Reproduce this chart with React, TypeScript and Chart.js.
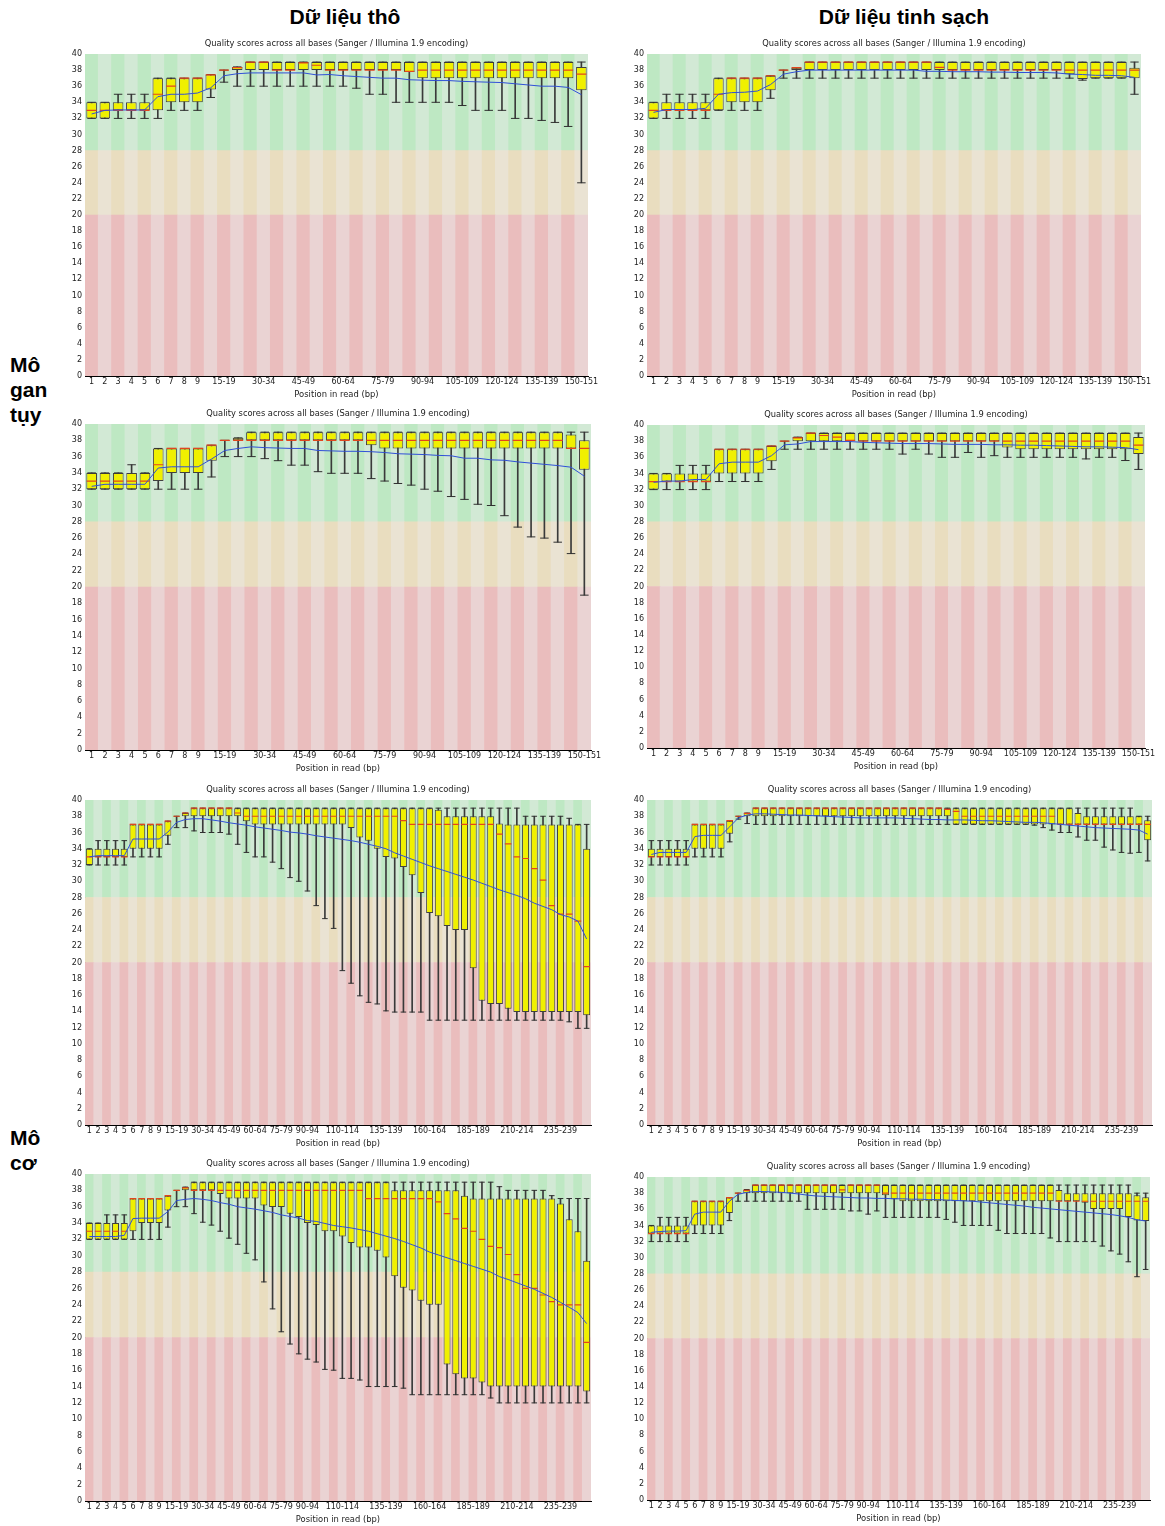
import React, { useEffect, useRef } from 'react';
import { Chart, registerables } from 'chart.js';

Chart.register(...registerables);

const FONT = '"DejaVu Sans", Verdana, sans-serif';
const PANEL_TITLE = 'Quality scores across all bases (Sanger / Illumina 1.9 encoding)';
const X_TITLE = 'Position in read (bp)';

// ---------- categories & tick labels ----------
const hpCategories = ['1','2','3','4','5','6','7','8','9','10-14','15-19','20-24','25-29','30-34','35-39','40-44','45-49','50-54','55-59','60-64','65-69','70-74','75-79','80-84','85-89','90-94','95-99','100-104','105-109','110-114','115-119','120-124','125-129','130-134','135-139','140-144','145-149','150-151'];
const muCategories = ['1','2','3','4','5','6','7','8','9','10-14','15-19','20-24','25-29','30-34','35-39','40-44','45-49','50-54','55-59','60-64','65-69','70-74','75-79','80-84','85-89','90-94','95-99','100-104','105-109','110-114','115-119','120-124','125-129','130-134','135-139','140-144','145-149','150-154','155-159','160-164','165-169','170-174','175-179','180-184','185-189','190-194','195-199','200-204','205-209','210-214','215-219','220-224','225-229','230-234','235-239','240-244','245-249','250-251'];
const hpTickLabels = ['1','2','3','4','5','6','7','8','9','15-19','30-34','45-49','60-64','75-79','90-94','105-109','120-124','135-139','150-151'];
const muTickLabels = ['1','2','3','4','5','6','7','8','9','15-19','30-34','45-49','60-64','75-79','90-94','110-114','135-139','160-164','185-189','210-214','235-239'];

// quality zones (bad / reasonable / good)
const zoneBounds = [0, 20, 28, 40];
const zoneColors = [
  ['rgb(234,189,189)', 'rgb(234,211,211)'],
  ['rgb(233,221,191)', 'rgb(234,227,211)'],
  ['rgb(190,232,195)', 'rgb(210,233,213)'],
];

// ---------- Mô gan tụy, mẫu 1, dữ liệu thô ----------
const hpRaw1Low = [32,32,32,32,32,32,33,33,33,34.6,36.5,36,36,36,36,36,36,36,36,36,35.75,35,35,34,34,34,34,34,33.6,33,33,33,32,32,31.75,31.5,31,24];
const hpRaw1Q1 = [32,32,33,33,33,33,34,34,34,35.6,38,38,38,38,38,38,38,38,38,38,38,38,38,38,37.75,37,37,37,37,37,37,37,37,37,37,37,37,35.5];
const hpRaw1Med = [33,33,33,33,33,35,36,37,37,37.4,38,38.3,39,39,38,38,38.9,38.6,38,38,38,38,38,38,37.85,38,38,38,38,38,38,38,38,38,38,38,38,37.5];
const hpRaw1Q3 = [34,34,34,34,34,37,37,37,37,37.45,38,38.4,39,39,39,39,39,39,39,39,39,39,39,39,39,39,39,39,39,39,39,39,39,39,39,39,39,38.4];
const hpRaw1High = [34,34,35,35,35,37,37,37,37,37.45,38,38.4,39,39,39,39,39,39,39,39,39,39,39,39,39,39,39,39,39,39,39,39,39,39,39,39,39,39];
const hpRaw1Mean = [32.55,33.0,33.05,33.05,33.05,34.7,35.0,35.0,35.15,35.8,37.3,37.55,37.65,37.65,37.65,37.65,37.65,37.4,37.45,37.3,37.2,37.1,37.0,37.0,36.8,36.75,36.7,36.7,36.6,36.55,36.5,36.45,36.3,36.15,36.0,36.0,35.85,34.95];

// ---------- Mô gan tụy, mẫu 1, dữ liệu tinh sạch ----------
const hpClean1Low = [32,32,32,32,32,33,33,33,33,34.5,37,37,37,37,37,37,37,37,37,37,37,37,37,37,37,37,37,37,37,37,37,37,37,36.75,37,37,37,35];
const hpClean1Q1 = [32,33,33,33,33,33,34,34,34,35.5,38,38,38,38,38,38,38,38,38,38,38,38,38,38,38,38,38,38,38,38,38,38,37.5,36.9,37,37,37,37];
const hpClean1Med = [33,33,33,33,33,35,37,37,37,37.3,38,38.3,39,39,39,39,39,39,39,39,39,39,38.35,38,38,38,38,38,38,38,38,38,38,38,38,38,38,38];
const hpClean1Q3 = [34,34,34,34,34,37,37,37,37,37.3,38,38.3,39,39,39,39,39,39,39,39,39,39,39,39,39,39,39,39,39,39,39,39,39,39,39,39,39,38.3];
const hpClean1High = [34,35,35,35,35,37,37,37,37,37.3,38,38.3,39,39,39,39,39,39,39,39,39,39,39,39,39,39,39,39,39,39,39,39,39,39,39,39,39,39];
const hpClean1Mean = [32.75,33.1,33.1,33.1,33.25,35.0,35.2,35.25,35.4,36.2,37.5,37.8,38.0,38.0,38.0,38.0,38.0,38.0,38.0,38.0,38.0,37.85,37.85,37.8,37.8,37.8,37.75,37.75,37.7,37.7,37.7,37.65,37.5,37.45,37.35,37.35,37.3,37.1];

// ---------- Mô gan tụy, mẫu 2, dữ liệu thô ----------
const hpRaw2Low = [32,32,32,32,32,32,32,32,32,33.5,36,36,36,35.75,35.5,34.95,34.95,34.15,33.95,33.95,33.95,33.3,33,32.7,32.5,32,31.75,31.1,30.75,30.15,30,28.75,27.35,26.15,26.0,25.5,24.1,19];
const hpRaw2Q1 = [32,32,32,32,32,33,34,34,34,35.5,38,38,38,38,38,38,38,38,38,38,38,37.4,37,37,37,37,37,37,37,37,37,37,37,37,37,37,37,34.4];
const hpRaw2Med = [33,33,33,33,33,35,37,37,37,37.4,38,38,38,38,38,38,38,38,38,38,38,38,38,38,38,38,38,38,38,38,38,38,38,38,38,38,37,37];
const hpRaw2Q3 = [34,34,34,34,34,37,37,37,37,37.4,38,38.3,39,39,39,39,39,39,39,39,39,39,39,39,39,39,39,39,39,39,39,39,39,39,39,39,38.7,38];
const hpRaw2High = [34,34,34,35,34,37,37,37,37,37.4,38,38.3,39,39,39,39,39,39,39,39,39,39,39,39,39,39,39,39,39,39,39,39,39,39,39,39,39,39];
const hpRaw2Mean = [32.35,32.6,32.6,32.6,32.6,34.6,34.75,34.75,34.75,35.7,36.75,37.0,37.2,37.1,37.05,37.0,37.0,36.75,36.7,36.65,36.65,36.6,36.5,36.35,36.3,36.25,36.15,36.1,35.8,35.8,35.6,35.55,35.35,35.2,35.05,34.9,34.7,33.6];

// ---------- Mô gan tụy, mẫu 2, dữ liệu tinh sạch ----------
const hpClean2Low = [32,32,32,32,32,33,33,33,33,34.5,37,37,37,37,37,37,37,37,37,36.4,37,36.4,36,36,36.6,36,36.2,36,36,36,36,36,36,35.8,36,36,35.6,34.5];
const hpClean2Q1 = [32,33,33,33,33,34,34,34,34,35.5,38,38,38,38,38,38,38,38,38,38,38,38,38,38,38,38,38,37.2,37,37,37,37,37,37,37,37,37,36.4];
const hpClean2Med = [33,33,33,33,33,37,37,37,37,37.4,38,38.4,39,38.7,38.5,38.1,38,38,38,38,38,38,38,38,38,38,38,38,38,38,38,38,38,38,38,38,38,37.5];
const hpClean2Q3 = [34,34,34,34,34,37,37,37,37,37.4,38,38.5,39,39,39,39,39,39,39,39,39,39,39,39,39,39,39,39,39,39,39,39,39,39,39,39,39,38.5];
const hpClean2High = [34,34,35,35,35,37,37,37,37,37.4,38,38.5,39,39,39,39,39,39,39,39,39,39,39,39,39,39,39,39,39,39,39,39,39,39,39,39,39,39];
const hpClean2Mean = [32.9,33.05,33.05,33.25,33.25,35.2,35.4,35.4,35.4,36.2,37.55,37.65,37.95,37.95,37.95,37.95,37.85,37.8,37.75,37.7,37.7,37.7,37.65,37.6,37.6,37.6,37.55,37.55,37.5,37.5,37.45,37.4,37.35,37.3,37.3,37.25,37.2,36.95];

// ---------- Mô cơ, mẫu 1, dữ liệu thô ----------
const muRaw1Low = [32,32,32,32,32,33,33,33,33,34.55,36.6,36.6,36.2,36.0,36.0,36.0,35.8,34.55,33.55,33.0,33.0,32.35,31.55,30.45,30.0,28.8,27.0,25.4,24.2,19.0,17.45,15.9,15.1,14.9,14.05,13.9,13.9,13.9,13.9,12.9,12.9,12.9,12.9,12.9,12.9,12.9,12.9,12.9,12.9,12.9,12.9,12.9,12.9,12.9,12.9,12.7,11.9,11.9];
const muRaw1Q1 = [32,33,33,33,33,34,34,34,34,35.6,38,38,38,38,38,38,38,38,37.4,37,37,37,37,37,37,37,37,37,37,37,36.55,35.4,35.0,34.0,33.0,32.8,31.75,30.75,28.55,26.1,25.7,24.5,24.0,24.0,19.3,15.3,14.9,14.9,14.3,13.9,13.9,13.9,13.9,13.9,13.9,13.9,13.9,13.5];
const muRaw1Med = [33,33,33,33,33,37,37,37,37,37.4,38,38.4,39,39,39,39,39,38.4,38,38,38,38,38,38,38,38,38,38,38,38,38,38,38,38,38,38,37.45,37,37,37,37,37,37,37,37,37,37,35.8,34.6,33.0,32.8,31.55,30.15,27.0,25.95,25.95,25.1,19.5];
const muRaw1Q3 = [34,34,34,34,34,37,37,37,37,37.4,38,38.4,39,39,39,39,39,39,39,39,39,39,39,39,39,39,39,39,39,39,39,39,39,39,39,39,39,39,39,39,38.8,38,38,38,38,38,38,37.1,37,37,37,37,37,37,37,37,37,34];
const muRaw1High = [34,35,35,35,35,37,37,37,37,37.4,38,38.4,39,39,39,39,39,39,39,39,39,39,39,39,39,39,39,39,39,39,39,39,39,39,39,39,39,39,39,39,39,39,39,39,39,39,39,39,39,39,38,38,38,38,38,37.75,37,37];
const muRaw1Mean = [33.0,33.15,33.15,33.15,33.15,35.2,35.2,35.2,35.2,36.05,37.25,37.6,37.7,37.7,37.55,37.4,37.2,37.05,36.9,36.7,36.55,36.4,36.25,36.05,35.95,35.8,35.6,35.45,35.3,35.15,35.0,34.8,34.55,34.3,34.0,33.5,33.1,32.7,32.3,31.9,31.55,31.2,30.85,30.5,30.15,29.75,29.35,28.95,28.6,28.25,27.85,27.3,26.9,26.5,25.9,25.6,25.1,22.9];

// ---------- Mô cơ, mẫu 1, dữ liệu tinh sạch ----------
const muClean1Low = [32,32,32,32,32,33,33,33,33,34.85,37.65,37.1,37,37,37,37,37,37,37,37,37,37,37,37,37,37,37,37,37,37,37,37,37,37,37,37,37,37,37,37,37,37,37,37,36.9,36.6,36.3,36.0,36.0,35.45,35.05,35.05,34.2,33.85,33.55,33.45,33.55,32.5];
const muClean1Q1 = [33,33,33,33,33,34,34,34,34,35.85,38,38,38,38,38,38,38,38,38,38,38,38,38,38,38,38,38,38,38,38,38,38,38,38,38,37,37,37,37,37,37,37,37,37,37,37,37,37,37,37,37,37,37,37,37,37,37,35.05];
const muClean1Med = [33,33,33,33,33,37,37,37,37,37.45,38,38.35,39,39,39,39,39,39,39,39,39,39,39,39,39,39,39,39,39,39,39,39,39,39,38.85,38.6,38,38,38,38,38,38,38,38,38,38,38,37,37,37,37,37,37,37,37,37,37,37];
const muClean1Q3 = [34,34,34,34,34,37,37,37,37,37.45,38,38.4,39,39,39,39,39,39,39,39,39,39,39,39,39,39,39,39,39,39,39,39,39,39,39,39,39,39,39,39,39,39,39,39,39,39,39,39,39,38.4,38,38,38,38,38,38,38,37.5];
const muClean1High = [35,35,35,35,35,37,37,37,37,37.45,38,38.4,39,39,39,39,39,39,39,39,39,39,39,39,39,39,39,39,39,39,39,39,39,39,39,39,39,39,39,39,39,39,39,39,39,39,39,39,39,39,39,39,39,39,39,39,38,38];
const muClean1Mean = [33.3,33.55,33.55,33.55,33.55,35.5,35.65,35.65,35.65,36.7,37.8,38.15,38.3,38.3,38.25,38.2,38.15,38.15,38.1,38.05,38.0,37.95,37.9,37.85,37.8,37.8,37.8,37.8,37.8,37.75,37.7,37.65,37.6,37.6,37.55,37.55,37.55,37.5,37.45,37.45,37.4,37.35,37.3,37.25,37.25,37.2,37.1,37.0,36.9,36.8,36.7,36.6,36.55,36.5,36.45,36.4,36.3,35.8];

// ---------- Mô cơ, mẫu 2, dữ liệu thô ----------
const muRaw2Low = [32,32,32,32,32,32,32,32,32,33.5,36,36,35.15,34.1,33.75,33.0,32.15,31.4,30.3,29.5,26.8,23.5,20.7,19.2,18.0,17.35,17.0,16.1,16.0,15.0,15.0,14.8,14.0,14.0,14.0,14.0,13.8,13.0,13.0,13.0,13.0,13.0,13.0,13.0,13.0,13.0,12.6,12.0,12.0,12.0,12.0,12.0,12.0,12.0,12.0,12.0,12.0,12.0];
const muRaw2Q1 = [32,32,32,32,32,33,34,34,34,35.55,38,38,38,38,38,37.55,37,37,37,37,36.15,35.95,35.95,35.15,34.75,34.0,33.75,33.0,33.0,32.35,31.55,31.0,31.0,30.6,29.8,27.5,26.1,25.75,24.5,24.0,24.0,16.7,15.5,15.0,15.0,14.5,14.0,14.0,14.0,14.0,14.0,14.0,14.0,14.0,14.0,14.0,14.0,13.4];
const muRaw2Med = [33,33,33,33,33,37,37,37,37,37.35,38,38.3,38,38,38,38,38,38,38,38,38,38,38,38,38,38,38,38,38,38,38,38,37,37,37,37,37,37,37,37,36.6,35.15,34.5,33.35,33.0,32.0,31.15,31.0,30.15,27.7,26.0,26.0,25.2,24.4,24.0,24.0,24.0,19.4];
const muRaw2Q3 = [34,34,34,34,34,37,37,37,37,37.35,38,38.4,39,39,39,39,39,39,39,39,39,39,39,39,39,39,39,39,39,39,39,39,39,39,39,38,38,38,38,38,38,38,38,37.35,37,37,37,37,37,37,37,37,37,37,36.4,34.45,33.0,29.4];
const muRaw2High = [34,34,35,35,35,37,37,37,37,37.35,38,38.4,39,39,39,39,39,39,39,39,39,39,39,39,39,39,39,39,39,39,39,39,39,39,39,39,39,39,39,39,39,39,39,39,39,39,39,38.45,38,38,38,38,38,37.35,37,37,37,37];
const muRaw2Mean = [32.35,32.35,32.35,32.35,32.5,34.55,34.6,34.6,34.6,35.4,36.75,36.9,37.0,36.9,36.75,36.5,36.3,36.0,35.85,35.7,35.5,35.3,35.0,34.8,34.6,34.3,34.2,33.95,33.7,33.55,33.4,33.2,33.0,32.7,32.4,32.1,31.75,31.35,30.95,30.45,30.1,29.75,29.4,29.05,28.7,28.35,28.0,27.45,27.1,26.7,26.3,25.9,25.4,24.9,24.3,23.7,23.05,21.7];

// ---------- Mô cơ, mẫu 2, dữ liệu tinh sạch ----------
const muClean2Low = [32,32,32,32,32,33,33,33,33,34.6,37,37,37,37,37,37,37,37,36,36,36,36,36,35.8,35.8,35.4,35.8,35,35,35,35,35,35,35,34.75,34.4,34,34,34,34,33.4,33,33,33,33,33,32.45,32,32,32,32,32,31.45,30.85,30.45,29.5,27.65,28.55];
const muClean2Q1 = [33,33,33,33,33,34,34,34,34,35.55,38,38,38,38,38,38,38,38,38,38,38,38,38,38,38,38,38,37.75,37.25,37,37,37,37,37,37,37,37,37,37,37,37,37,37,37,37,37,37,37,37,37,36.8,36.05,36.05,36.05,36.05,35.05,34.6,34.55];
const muClean2Med = [33,33,33,33,33,37,37,37,37,37.45,38,38.35,39,39,39,39,39,39,39,39,39,39,38.4,39,39,39,39,38,38,38,38,38,38,38,38,38,38,38,38,38,38,38,38,38,38,38,38,37,37,37,37,37,37,37,37,37,37,37];
const muClean2Q3 = [34,34,34,34,34,37,37,37,37,37.45,38,38.45,39,39,39,39,39,39,39,39,39,39,39,39,39,39,39,39,39,39,39,39,39,39,39,39,39,39,39,39,39,39,39,39,39,39,39,38.4,38,38,38,38,38,38,38,38,37.75,37.5];
const muClean2High = [34,35,35,35,35,37,37,37,37,37.45,38,38.45,39,39,39,39,39,39,39,39,39,39,39,39,39,39,39,39,39,39,39,39,39,39,39,39,39,39,39,39,39,39,39,39,39,39,39,39,39,39,39,39,39,39,39,39,38,38];
const muClean2Mean = [33.15,33.25,33.3,33.3,33.35,35.4,35.65,35.65,35.65,37.0,37.85,38.1,38.2,38.2,38.15,38.1,38.0,37.9,37.75,37.65,37.6,37.55,37.5,37.45,37.4,37.4,37.35,37.35,37.3,37.3,37.25,37.25,37.2,37.2,37.15,37.1,37.05,37.0,36.9,36.8,36.7,36.6,36.5,36.4,36.25,36.15,36.05,35.95,35.85,35.75,35.65,35.55,35.45,35.35,35.2,35.0,34.7,34.55];

type PanelSpec = {
  key: string;
  categories: string[];
  tickLabels: string[];
  low: number[]; q1: number[]; med: number[]; q3: number[]; high: number[]; mean: number[];
  plot: { x: number; y: number; w: number; h: number };
};

const PANELS: PanelSpec[] = [
  { key: 'hpRaw1', categories: hpCategories, tickLabels: hpTickLabels, low: hpRaw1Low, q1: hpRaw1Q1, med: hpRaw1Med, q3: hpRaw1Q3, high: hpRaw1High, mean: hpRaw1Mean, plot: { x: 85, y: 54, w: 503, h: 322 } },
  { key: 'hpClean1', categories: hpCategories, tickLabels: hpTickLabels, low: hpClean1Low, q1: hpClean1Q1, med: hpClean1Med, q3: hpClean1Q3, high: hpClean1High, mean: hpClean1Mean, plot: { x: 647, y: 54, w: 494, h: 322 } },
  { key: 'hpRaw2', categories: hpCategories, tickLabels: hpTickLabels, low: hpRaw2Low, q1: hpRaw2Q1, med: hpRaw2Med, q3: hpRaw2Q3, high: hpRaw2High, mean: hpRaw2Mean, plot: { x: 85, y: 424, w: 506, h: 326 } },
  { key: 'hpClean2', categories: hpCategories, tickLabels: hpTickLabels, low: hpClean2Low, q1: hpClean2Q1, med: hpClean2Med, q3: hpClean2Q3, high: hpClean2High, mean: hpClean2Mean, plot: { x: 647, y: 425, w: 498, h: 323 } },
  { key: 'muRaw1', categories: muCategories, tickLabels: muTickLabels, low: muRaw1Low, q1: muRaw1Q1, med: muRaw1Med, q3: muRaw1Q3, high: muRaw1High, mean: muRaw1Mean, plot: { x: 85, y: 800, w: 506, h: 325 } },
  { key: 'muClean1', categories: muCategories, tickLabels: muTickLabels, low: muClean1Low, q1: muClean1Q1, med: muClean1Med, q3: muClean1Q3, high: muClean1High, mean: muClean1Mean, plot: { x: 647, y: 800, w: 505, h: 325 } },
  { key: 'muRaw2', categories: muCategories, tickLabels: muTickLabels, low: muRaw2Low, q1: muRaw2Q1, med: muRaw2Med, q3: muRaw2Q3, high: muRaw2High, mean: muRaw2Mean, plot: { x: 85, y: 1174, w: 506, h: 327 } },
  { key: 'muClean2', categories: muCategories, tickLabels: muTickLabels, low: muClean2Low, q1: muClean2Q1, med: muClean2Med, q3: muClean2Q3, high: muClean2High, mean: muClean2Mean, plot: { x: 647, y: 1177, w: 503, h: 323 } },
];

const AXIS_W = 38;
const TOP_H = 19;
const BOTTOM_H = 26;

function QualityPanel({ spec }: { spec: PanelSpec }) {
  const ref = useRef<HTMLCanvasElement | null>(null);
  const width = spec.plot.w + 2 * AXIS_W;
  const height = spec.plot.h + TOP_H + BOTTOM_H;

  useEffect(() => {
    if (!ref.current) return;
    const n = spec.categories.length;
    const tickSet = new Set(spec.tickLabels);
    const catWidth = (c: any) => c.chart.scales.x.width / n;
    const tickFont = { family: FONT, size: 8 };
    const axisTitleFont = { family: FONT, size: 8.4 };

    const zoneSets = [0, 1, 2].map((z) => ({
      type: 'bar',
      data: spec.categories.map(() => [zoneBounds[z], zoneBounds[z + 1]]),
      backgroundColor: spec.categories.map((_, i) => zoneColors[z][i % 2]),
      borderWidth: 0,
      barPercentage: 1,
      categoryPercentage: 1,
      grouped: false,
      order: 10,
    }));

    const datasets: any[] = [
      ...zoneSets,
      {
        type: 'bar',
        data: spec.low.map((v, i) => [v, spec.high[i]]),
        backgroundColor: '#3a3a3a',
        borderWidth: 0,
        barThickness: 1,
        grouped: false,
        order: 6,
      },
      {
        type: 'bar',
        data: spec.q1.map((v, i) => [v, spec.q3[i]]),
        backgroundColor: '#f0f000',
        borderColor: '#404040',
        borderWidth: 1,
        borderSkipped: false,
        barPercentage: 0.8,
        categoryPercentage: 1,
        grouped: false,
        order: 5,
      },
      {
        type: 'line',
        data: spec.low,
        showLine: false,
        pointStyle: 'line',
        pointRadius: (c: any) => catWidth(c) * 0.32,
        pointBorderColor: '#303030',
        pointBorderWidth: 1,
        order: 4,
      },
      {
        type: 'line',
        data: spec.high,
        showLine: false,
        pointStyle: 'line',
        pointRadius: (c: any) => catWidth(c) * 0.32,
        pointBorderColor: '#303030',
        pointBorderWidth: 1,
        order: 4,
      },
      {
        type: 'line',
        data: spec.med,
        showLine: false,
        pointStyle: 'line',
        pointRadius: (c: any) => catWidth(c) * 0.38,
        pointBorderColor: '#e2461e',
        pointBorderWidth: 1.2,
        order: 3,
      },
      {
        type: 'line',
        data: spec.mean,
        borderColor: '#3050d8',
        borderWidth: 1,
        pointRadius: 0,
        fill: false,
        tension: 0,
        order: 1,
      },
    ];

    const chart = new Chart(ref.current, {
      type: 'bar',
      data: { labels: spec.categories, datasets },
      options: {
        animation: false,
        responsive: false,
        events: [],
        layout: { padding: 0 },
        plugins: {
          legend: { display: false },
          tooltip: { enabled: false },
          title: {
            display: true,
            text: PANEL_TITLE,
            color: '#222',
            font: { family: FONT, size: 8.3, weight: 'normal', lineHeight: '10px' },
            padding: { top: 4, bottom: 5 },
          },
        },
        scales: {
          x: {
            type: 'category',
            offset: true,
            grid: { display: false, drawTicks: false },
            border: { display: true, color: '#000', width: 1 },
            ticks: {
              autoSkip: false,
              maxRotation: 0,
              minRotation: 0,
              padding: 1,
              color: '#222',
              font: tickFont,
              callback: (_v: any, index: number) => {
                const lab = spec.categories[index];
                return tickSet.has(lab) ? lab : '';
              },
            },
            title: {
              display: true,
              text: X_TITLE,
              color: '#222',
              font: axisTitleFont,
              padding: { top: 0, bottom: 2 },
            },
            afterFit: (s: any) => { s.height = BOTTOM_H; },
          },
          y: {
            type: 'linear',
            min: 0,
            max: 40,
            grid: { display: false, drawTicks: false },
            border: { display: true, color: '#000', width: 1 },
            ticks: { stepSize: 2, autoSkip: false, padding: 3, color: '#222', font: tickFont },
            afterFit: (s: any) => { s.width = AXIS_W; },
          },
          yR: {
            type: 'linear',
            axis: 'y',
            position: 'right',
            display: true,
            grid: { display: false, drawTicks: false },
            border: { display: false },
            ticks: { display: false },
            afterFit: (s: any) => { s.width = AXIS_W; },
          },
        },
      } as any,
    } as any);
    return () => chart.destroy();
  }, [spec]);

  return (
    <canvas
      ref={ref}
      width={width}
      height={height}
      style={{
        position: 'absolute',
        left: spec.plot.x - AXIS_W,
        top: spec.plot.y - TOP_H,
        width,
        height,
      }}
    />
  );
}

const headerStyle: React.CSSProperties = {
  position: 'absolute',
  width: 260,
  top: 4,
  textAlign: 'center',
  fontWeight: 'bold',
  fontSize: 21,
  lineHeight: '26px',
  color: '#000',
};

const rowLabelStyle: React.CSSProperties = {
  position: 'absolute',
  left: 10,
  fontWeight: 'bold',
  fontSize: 21,
  lineHeight: '25px',
  color: '#000',
};

export default function App() {
  return (
    <div
      style={{
        position: 'absolute',
        left: 0,
        top: 0,
        width: 1165,
        height: 1526,
        overflow: 'hidden',
        background: '#ffffff',
        fontFamily: '"Liberation Sans", Arial, Helvetica, sans-serif',
      }}
    >
      <div style={{ ...headerStyle, left: 345 - 130 }}>Dữ liệu thô</div>
      <div style={{ ...headerStyle, left: 904 - 130 }}>Dữ liệu tinh sạch</div>
      <div style={{ ...rowLabelStyle, top: 352 }}>Mô<br />gan<br />tụy</div>
      <div style={{ ...rowLabelStyle, top: 1125 }}>Mô<br />cơ</div>
      {PANELS.map((p) => (
        <QualityPanel key={p.key} spec={p} />
      ))}
    </div>
  );
}
